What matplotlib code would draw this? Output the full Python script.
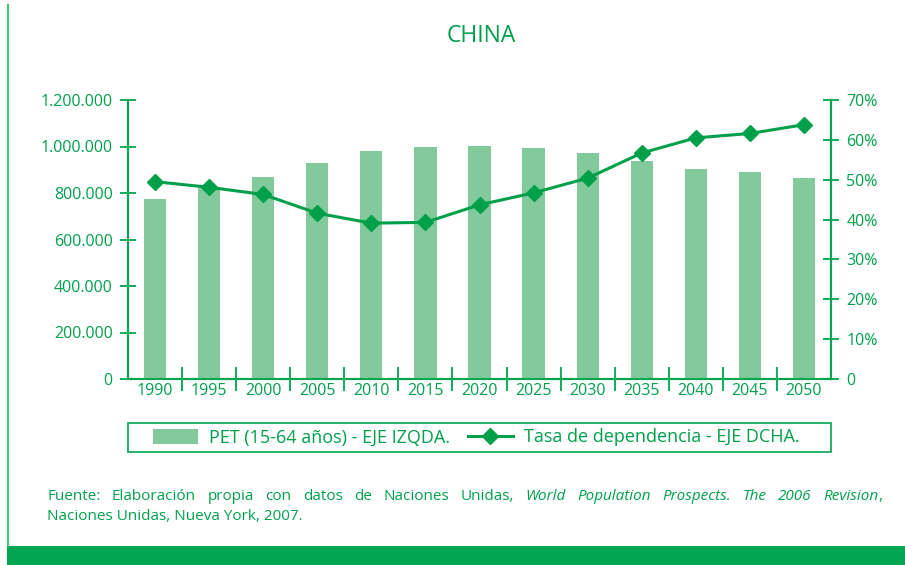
import matplotlib
matplotlib.use("Agg")
import matplotlib.pyplot as plt
import numpy as np
from matplotlib.patches import Rectangle
from matplotlib.lines import Line2D
from matplotlib.ticker import FuncFormatter, FixedLocator

years = ["1990", "1995", "2000", "2005", "2010", "2015", "2020",
         "2025", "2030", "2035", "2040", "2045", "2050"]
pet = [776000, 823000, 869000, 929000, 981000, 998000, 1002000,
       994000, 972000, 938000, 903000, 890000, 864000]
tasa = [49.5, 48.1, 46.3, 41.6, 39.1, 39.3, 43.7,
        46.7, 50.4, 56.7, 60.5, 61.6, 63.8]
left_ticks = [0, 200000, 400000, 600000, 800000, 1000000, 1200000]
right_ticks = [0, 10, 20, 30, 40, 50, 60, 70]

title = "CHINA"
label_bar = "PET (15-64 años) - EJE IZQDA."
label_line = "Tasa de dependencia - EJE DCHA."

GREEN = "#00A651"
TEXT = "#00A04B"
BAR = "#82C99B"
FONT = "Open Sans"
TICK_FS = 11.5

plt.rcParams['font.family'] = [FONT, 'DejaVu Sans']

W, H = 905, 565
fig = plt.figure(figsize=(W / 100, H / 100), dpi=100)

def fx(px):
    return px / W

def fy(py):
    return 1 - py / H

ax = fig.add_axes([fx(128), fy(379), fx(831) - fx(128), fy(100) - fy(379)])
x = np.arange(len(years))
ax.bar(x, pet, width=0.41, color=BAR, zorder=2, label=label_bar)
ax.set_xlim(-0.5, len(years) - 0.5)
ax.set_ylim(0, 1200000)
ax.set_yticks(left_ticks)
ax.yaxis.set_major_formatter(FuncFormatter(lambda v, p: f"{int(v):,}".replace(",", ".")))
ax.set_xticks(x)
ax.set_xticklabels(years)
ax.xaxis.set_minor_locator(FixedLocator(np.arange(0.5, len(years) - 1, 1.0)))
ax.tick_params(axis='x', which='major', length=0, pad=3, labelsize=TICK_FS, labelcolor=TEXT)
ax.tick_params(axis='x', which='minor', length=17, direction='inout', color=GREEN, width=1.3)
ax.tick_params(axis='y', length=12, direction='inout', color=GREEN, width=1.3,
               labelsize=TICK_FS, labelcolor=TEXT, pad=5)
ax.spines['top'].set_visible(False)
for s in ['left', 'right', 'bottom']:
    ax.spines[s].set_color(GREEN)
    ax.spines[s].set_linewidth(1.5)

ax2 = ax.twinx()
ax2.plot(x, tasa, color="#00A04B", lw=2.2, marker='D', markersize=8.5, zorder=3,
         label=label_line)
ax2.set_ylim(0, 70)
ax2.set_yticks(right_ticks)
ax2.yaxis.set_major_formatter(FuncFormatter(lambda v, p: "0" if v == 0 else f"{int(v)}%"))
ax2.tick_params(axis='y', length=12, direction='inout', color=GREEN, width=1.3,
                labelsize=TICK_FS, labelcolor=TEXT, pad=5)
ax2.spines['top'].set_visible(False)
for s in ['left', 'right', 'bottom']:
    ax2.spines[s].set_color(GREEN)
    ax2.spines[s].set_linewidth(1.5)

fig.text(fx(481), fy(36), title, ha='center', va='center', fontsize=16.5, color=TEXT)

# legend box
fig.add_artist(Rectangle((fx(128), fy(452)), fx(831) - fx(128), fy(423) - fy(452),
                         transform=fig.transFigure, fill=False, edgecolor=GREEN, lw=1.2))
h1, l1 = ax.get_legend_handles_labels()
h2, l2 = ax2.get_legend_handles_labels()
fig.legend(h1 + h2, l1 + l2, loc='center', bbox_to_anchor=(fx(476), fy(437.5)),
           ncol=2, frameon=False, fontsize=13, labelcolor=TEXT, handlelength=2.5,
           handleheight=0.9, columnspacing=1.0, handletextpad=0.6)

# source text, justified
words = [("Fuente:", False), ("Elaboración", False), ("propia", False), ("con", False),
         ("datos", False), ("de", False), ("Naciones", False), ("Unidas,", False),
         ("World", True), ("Population", True), ("Prospects.", True), ("The", True),
         ("2006", True), ("Revision", True)]
SRC_FS = 11
fig.canvas.draw()
r = fig.canvas.get_renderer()
x0, x1 = 47, 882
y_line1 = 497
widths = []
for w, it in words:
    t = fig.text(0, 0, w, fontsize=SRC_FS, style='italic' if it else 'normal', color=TEXT)
    widths.append(t.get_window_extent(renderer=r).width)
    t.remove()
tc = fig.text(0, 0, ",", fontsize=SRC_FS, color=TEXT)
cw = tc.get_window_extent(renderer=r).width
tc.remove()
total = sum(widths) + cw
gap = (x1 - x0 - total) / (len(words) - 1)
cur = x0
for (w, it), wd in zip(words, widths):
    fig.text(fx(cur), fy(y_line1), w, fontsize=SRC_FS, style='italic' if it else 'normal',
             color=TEXT, va='center', ha='left')
    cur += wd + gap
cur -= gap
fig.text(fx(cur), fy(y_line1), ",", fontsize=SRC_FS, color=TEXT, va='center', ha='left')
fig.text(fx(x0), fy(516), "Naciones Unidas, Nueva York, 2007.", fontsize=SRC_FS, color=TEXT,
         va='center', ha='left')

# decorations
fig.add_artist(Line2D([fx(8), fx(8)], [fy(5), fy(546)], transform=fig.transFigure,
                      color="#4CC27A", lw=1.5))
fig.add_artist(Rectangle((fx(7), 0), 1 - fx(7), fy(546), transform=fig.transFigure,
                         color=GREEN, lw=0))

fig.savefig("out.png", dpi=100)
